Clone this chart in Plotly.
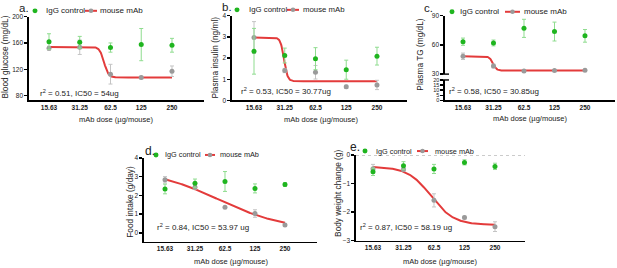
import math
import numpy as np
import plotly.graph_objects as go

# ---------------- data ----------------
doses = [15.63, 31.25, 62.5, 125, 250]
dose_labels = ["15.63", "31.25", "62.5", "125", "250"]

glucose_igg = [162, 161, 153, 157.5, 156.5]
glucose_igg_err = [12, 9, 7, 24.5, 10.5]
glucose_mab = [152, 153.5, 112.5, 107.5, 117]
glucose_mab_err = [3, 11, 15, 2, 8]
glucose_fit = [154, 107.5, 54, 20]          # top, bottom, IC50, hill

insulin_igg = [2.32, 2.12, 1.97, 1.45, 2.09]
insulin_igg_err = [1.08, 0.35, 0.52, 0.45, 0.42]
insulin_mab = [2.97, 1.41, 1.33, 0.64, 0.73]
insulin_mab_err = [0.75, 0.1, 0.32, 0.08, 0.22]
insulin_fit = [2.97, 0.91, 30.77, 25]

tg_igg = [63.3, 62, 77, 73.7, 69.3]
tg_igg_err = [3.7, 3, 9.3, 9.7, 6.5]
tg_mab = [48.3, 38.3, 33.3, 33.7, 34]
tg_mab_err = [3.3, 2, 1, 0.8, 1]
tg_fit = [48.3, 33.7, 30.85, 25]

food_igg = [2.34, 2.64, 2.74, 2.37, 2.58]
food_igg_err = [0.26, 0.23, 0.53, 0.24, 0.1]
food_mab = [2.83, 2.43, 1.36, 1.03, 0.42]
food_mab_err = [0.17, 0.1, 0.05, 0.2, 0.05]
food_fit = [3.4, 0.15, 53.97, 1.3]

bw_igg = [-0.59, -0.375, -0.49, -0.26, -0.40]
bw_igg_err = [0.13, 0.14, 0.16, 0.09, 0.11]
bw_mab = [-0.48, -0.51, -1.59, -2.19, -2.51]
bw_mab_err = [0.15, 0.05, 0.23, 0.05, 0.17]
bw_fit = [-0.41, -2.45, 58.19, 3.8]

r2_texts = [
    "r<sup>2</sup> = 0.51, IC50 = 54ug",
    "r<sup>2</sup> = 0.53, IC50 = 30.77ug",
    "r<sup>2</sup> = 0.58, IC50 = 30.85ug",
    "r<sup>2</sup> = 0.84, IC50 = 53.97 ug",
    "r<sup>2</sup> = 0.87, IC50 = 58.19 ug",
]
y_titles = ["Blood glucose (mg/dL)", "Plasma insulin (ng/ml)", "Plasma TG (mg/dL)",
            "Food intake (g/day)", "Body weight change (g)"]
x_title = "mAb dose (µg/mouse)"
letters = ["a.", "b.", "c.", "d.", "e."]

# ---------------- layout helpers ----------------
W, H = 617, 268
FONT = "Liberation Sans, Arial, sans-serif"
GREEN = "#1fb51f"
GREEN_ERR = "#8fdc8f"
GRAY = "#9a9a9a"
GRAY_ERR = "#c4c4c4"
RED = "#e33b3b"
TXT = "#222222"


def px(x):
    return x / W


def py(y):
    return 1 - y / H


def logistic(params, xs):
    top, bottom, ic50, hill = params
    xs = np.asarray(xs)
    return bottom + (top - bottom) / (1 + (xs / ic50) ** hill)


L2 = math.log10(2)
L0 = math.log10(15.63)

# panel geometry: x0, x1, px of 15.63, px step, ytop, ybot, yrange, yticks
panels = [
    dict(x0=29, x1=204, pos=49, step=30.75, yt=13, yb=99, yr=[72.6, 200], yticks=[80, 120, 160, 200]),
    dict(x0=232, x1=407, pos=254, step=30.75, yt=12, yb=99, yr=[0, 4], yticks=[0, 1, 2, 3, 4]),
    dict(x0=445, x1=615, pos=463, step=30.5, yt=12, yb=72, yr=[30, 90], yticks=[30, 60, 90]),
    dict(x0=144, x1=317, pos=165, step=30.0, yt=158, yb=244, yr=[-0.47, 4], yticks=[0, 1, 2, 3, 4]),
    dict(x0=356, x1=525, pos=373, step=30.5, yt=155, yb=243, yr=[-3, 0], yticks=[-3, -2, -1, 0]),
]

series = [
    (glucose_igg, glucose_igg_err, glucose_mab, glucose_mab_err, glucose_fit),
    (insulin_igg, insulin_igg_err, insulin_mab, insulin_mab_err, insulin_fit),
    (tg_igg, tg_igg_err, tg_mab, tg_mab_err, tg_fit),
    (food_igg, food_igg_err, food_mab, food_mab_err, food_fit),
    (bw_igg, bw_igg_err, bw_mab, bw_mab_err, bw_fit),
]

fig = go.Figure()
layout = dict(
    width=W, height=H, margin=dict(l=0, r=0, t=0, b=0),
    paper_bgcolor="white", plot_bgcolor="white", showlegend=False,
    font=dict(family=FONT, color=TXT),
)
annotations = []
shapes = []


def text_ann(x, y, text, size, xanchor="center", yanchor="middle", angle=0):
    annotations.append(dict(x=px(x), y=py(y), xref="paper", yref="paper", text=text,
                            xanchor=xanchor, yanchor=yanchor, textangle=angle,
                            showarrow=False, borderpad=0,
                            font=dict(size=size, family=FONT, color=TXT)))


for i, (p, s) in enumerate(zip(panels, series)):
    n = i + 1
    xa = "x" if n == 1 else f"x{n}"
    ya = "y" if n == 1 else f"y{n}"
    igg, igg_e, mab, mab_e, fit = s
    xcurve = np.logspace(math.log10(doses[0]), math.log10(doses[-1]), 300)
    fig.add_trace(go.Scatter(x=xcurve, y=logistic(fit, xcurve), mode="lines",
                             line=dict(color=RED, width=2), xaxis=xa, yaxis=ya,
                             hoverinfo="skip"))
    fig.add_trace(go.Scatter(x=doses, y=mab, mode="markers", name="mouse mAb",
                             marker=dict(color=GRAY, size=5),
                             error_y=dict(type="data", array=mab_e, color=GRAY_ERR,
                                          thickness=1, width=2),
                             xaxis=xa, yaxis=ya))
    fig.add_trace(go.Scatter(x=doses, y=igg, mode="markers", name="IgG control",
                             marker=dict(color=GREEN, size=5),
                             error_y=dict(type="data", array=igg_e, color=GREEN_ERR,
                                          thickness=1, width=2),
                             xaxis=xa, yaxis=ya))

    xlo = L0 + (p["x0"] - p["pos"]) / p["step"] * L2
    xhi = L0 + (p["x1"] - p["pos"]) / p["step"] * L2
    xkey = "xaxis" if n == 1 else f"xaxis{n}"
    ykey = "yaxis" if n == 1 else f"yaxis{n}"
    xanchor_axis = ya if n != 3 else "y6"
    layout[xkey] = dict(
        domain=[px(p["x0"]), px(p["x1"])], anchor=xanchor_axis, type="log",
        range=[xlo, xhi], tickvals=doses, ticktext=dose_labels,
        showline=True, linecolor="black", linewidth=1.6, ticks="",
        tickfont=dict(size=6.5, family=FONT, color=TXT, weight="bold"),
        showgrid=False, zeroline=False, fixedrange=True,
    )
    layout[ykey] = dict(
        domain=[py(p["yb"]), py(p["yt"])], anchor=xa, range=p["yr"],
        tickvals=p["yticks"], showline=True, linecolor="black", linewidth=1.6,
        ticks="outside", ticklen=3, tickwidth=1.4, tickcolor="black",
        tickfont=dict(size=6.5, family=FONT, color=TXT),
        showgrid=False, zeroline=False, fixedrange=True,
    )

# axis titles
ytitle_pos = [(5, 55), (215, 55), (420, 52), (130, 203), (338, 195)]
for t, (x, y) in zip(y_titles, ytitle_pos):
    text_ann(x, y, t, 8.3, angle=-90)
xtitle_pos = [(116, 119), (321, 119), (530, 118), (231, 264), (440, 264)]
for x, y in xtitle_pos:
    text_ann(x, y, x_title, 7.5)

# panel c lower broken-axis segment
fig.add_trace(go.Scatter(x=[None], y=[None], xaxis="x3", yaxis="y6", hoverinfo="skip"))
layout["yaxis6"] = dict(
    domain=[py(99), py(78)], anchor="x3", range=[0, 20], tickvals=[0, 5, 10, 15, 20],
    showline=True, linecolor="black", linewidth=1.6, ticks="outside", ticklen=3,
    tickwidth=1.4, tickcolor="black", tickfont=dict(size=5.5, family=FONT, color=TXT),
    showgrid=False, zeroline=False, fixedrange=True,
)
shapes.append(dict(type="line", xref="paper", yref="paper", x0=px(441), x1=px(449),
                   y0=py(72), y1=py(72), line=dict(color="black", width=1.4)))
shapes.append(dict(type="line", xref="paper", yref="paper", x0=px(441), x1=px(449),
                   y0=py(78), y1=py(78), line=dict(color="black", width=1.4)))

# dotted zero line in panel e
shapes.append(dict(type="line", xref="x5 domain", yref="y5", x0=0, x1=1, y0=0, y1=0,
                   line=dict(color="#888888", width=1, dash="dot")))

# r2 annotations
r2_pos = [(39, 91), (240, 89), (448, 89), (156, 229), (359, 229)]
for t, (x, y) in zip(r2_texts, r2_pos):
    text_ann(x, y, t, 8, xanchor="left")

# panel letters
letter_pos = [(30, 4, "right", 11.5), (233, 3, "right", 11.5), (434, 4, "right", 11.5),
              (144, 151, "left", 12), (361, 147, "right", 12)]
for t, (x, y, anc, sz) in zip(letters, letter_pos):
    text_ann(x, y, t, sz, xanchor=anc)


def dot(cx, cy, r, color):
    shapes.append(dict(type="circle", xref="paper", yref="paper",
                       x0=px(cx - r), x1=px(cx + r), y0=py(cy + r), y1=py(cy - r),
                       fillcolor=color, line=dict(width=0)))


# per-panel legends: (green dot x, igg text x, line x0, line x1, mab text x, y, font size)
legend_pos = [(35, 45, 85, 97, 99, 7, 8), (237, 248, 287, 299, 302, 6, 7.8),
              (452, 459, 505, 520, 523, 8, 8), (156, 164, 205, 215, 219, 155, 7.3),
              (365, 375, 417, 428, 434, 151, 7.3)]
for gx, tx, lx0, lx1, mx, y, fs in legend_pos:
    dot(gx, y, 2.5, GREEN)
    shapes.append(dict(type="line", xref="paper", yref="paper", x0=px(lx0), x1=px(lx1),
                       y0=py(y), y1=py(y), line=dict(color=RED, width=2)))
    dot((lx0 + lx1) / 2, y, 2.3, GRAY)
    text_ann(tx, y, "IgG control", fs, xanchor="left")
    text_ann(mx, y, "mouse mAb", fs, xanchor="left")

layout["annotations"] = annotations
layout["shapes"] = shapes
fig.update_layout(**layout)
fig.write_html("out.html", config={"displayModeBar": False, "staticPlot": True},
               post_script="document.body.style.margin='0';document.body.style.padding='0';")
